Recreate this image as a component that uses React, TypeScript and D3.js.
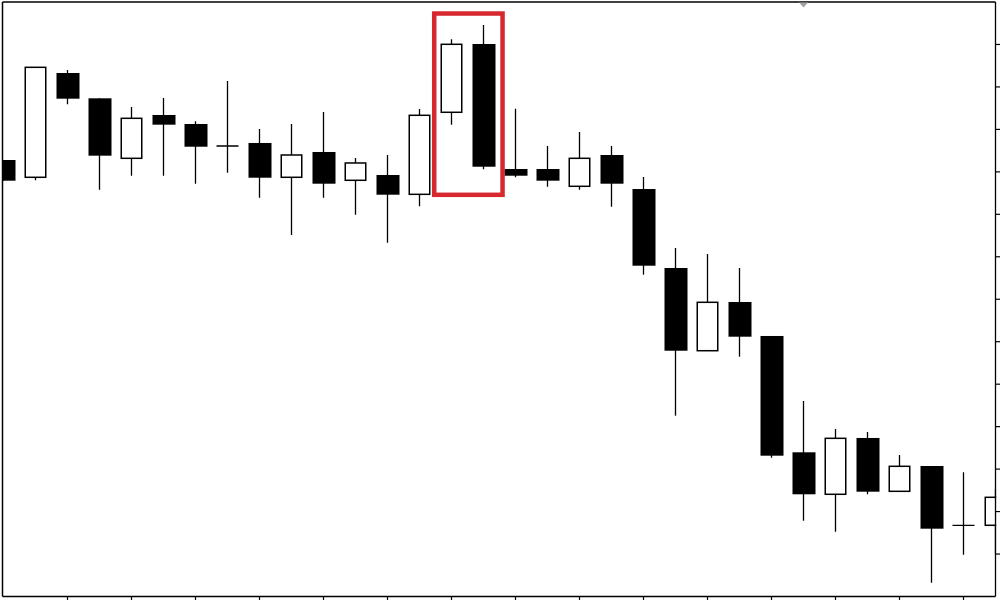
import React from "react";
import * as d3 from "d3";

// Candle data (price units), index = bar position
const opens = [102.79, 98.72, 123.28, 117.32, 103.19, 113.39, 111.27, 106.09, 106.8, 98.72, 104.68, 98.01, 99.26, 94.71, 114.03, 130.11, 100.67, 100.67, 96.6, 103.97, 95.96, 77.36, 57.88, 69.35, 61.35, 33.96, 24.07, 37.33, 24.77, 30.73, 16.77, 16.77];
const highs = [102.79, 124.62, 123.99, 117.32, 115.27, 117.39, 111.91, 121.4, 110.09, 111.27, 114.1, 103.26, 103.97, 114.8, 131.22, 134.58, 114.87, 106.09, 109.39, 106.09, 98.79, 82.07, 80.66, 77.36, 61.35, 46.04, 39.45, 38.74, 33.32, 30.73, 29.25, 25.32];
const lows = [97.92, 98.01, 115.91, 95.8, 99.09, 99.09, 97.21, 99.8, 93.91, 85.13, 93.91, 89.91, 83.32, 91.89, 111.11, 100.6, 98.72, 96.5, 95.8, 91.79, 75.78, 42.58, 57.88, 56.47, 32.69, 17.85, 15.26, 24.07, 24.77, 3.25, 9.84, 9.94];
const closes = [97.92, 124.62, 117.23, 103.81, 112.61, 111.11, 105.92, 106.09, 98.62, 103.97, 97.21, 102.09, 94.62, 113.32, 130.04, 101.21, 99.09, 97.92, 103.19, 97.21, 77.9, 57.88, 69.28, 61.18, 33.16, 24.07, 37.25, 24.68, 30.66, 15.97, 16.77, 23.36];

const priceTicks = [10, 20, 30, 40, 50, 60, 70, 80, 90, 100, 110, 120, 130];
const timeTicks = [2, 4, 6, 8, 10, 12, 14, 16, 18, 20, 22, 24, 26, 28, 30];
const highlighted = [14, 15];
const markerIndex = 25;

const W = 1000;
const H = 600;
const plotLeft = 2.5;
const plotRight = 995.5;
const plotTop = 2;
const plotBottom = 596.5;

export default function App() {
  const x = d3.scaleLinear().domain([0, 31]).range([3.5, 995.5]);
  const y = d3.scaleLinear().domain([0, 140]).range([plotBottom, plotTop]);
  const bodyW = 22;
  const step = x(1) - x(0);

  const hlLeft = x(highlighted[0]) - step * 0.54;
  const hlRight = x(highlighted[1]) + step * 0.595;
  const hlTop = y(d3.max(highlighted, (i) => highs[i])!) - 11.5;
  const hlBottom = y(d3.min(highlighted, (i) => lows[i])!) + 25.5;

  const mx = x(markerIndex);

  return (
    <svg
      width={W}
      height={H}
      style={{ position: "fixed", left: 0, top: 0, display: "block", background: "#fff" }}
    >
      <defs>
        <clipPath id="plotClip">
          <rect x={3} y={plotTop} width={plotRight + 0.7 - 3} height={plotBottom - plotTop} />
        </clipPath>
      </defs>
      <rect x={0} y={0} width={W} height={H} fill="#fff" />
      <g clipPath="url(#plotClip)">
        {opens.map((o, i) => {
          const c = closes[i];
          const cx = x(i);
          const top = y(Math.max(o, c));
          const bot = y(Math.min(o, c));
          const bull = c > o;
          const doji = o === c;
          return (
            <g key={i}>
              <line
                x1={cx}
                x2={cx}
                y1={y(highs[i])}
                y2={y(lows[i])}
                stroke="#000"
                strokeWidth={1.3}
              />
              {doji ? (
                <line x1={cx - bodyW / 2} x2={cx + bodyW / 2} y1={top} y2={top} stroke="#000" strokeWidth={1.3} />
              ) : bull ? (
                <rect
                  x={cx - bodyW / 2 + 0.75}
                  y={top}
                  width={bodyW - 1.5}
                  height={bot - top}
                  fill="#fff"
                  stroke="#000"
                  strokeWidth={1.5}
                />
              ) : (
                <rect x={cx - bodyW / 2} y={top} width={bodyW + 1} height={bot - top} fill="#000" />
              )}
            </g>
          );
        })}
      </g>
      {/* frame */}
      <line x1={plotLeft} x2={plotRight} y1={plotTop} y2={plotTop} stroke="#000" strokeWidth={1.3} />
      <line x1={plotLeft} x2={plotLeft} y1={plotTop} y2={plotBottom} stroke="#000" strokeWidth={1.5} />
      <line x1={plotRight} x2={plotRight} y1={plotTop} y2={plotBottom} stroke="#000" strokeWidth={1.3} />
      <line x1={plotLeft} x2={plotRight} y1={plotBottom} y2={plotBottom} stroke="#000" strokeWidth={1.3} />
      {priceTicks.map((p) => (
        <line key={p} x1={plotRight} x2={plotRight + 4.5} y1={y(p)} y2={y(p)} stroke="#000" strokeWidth={1.2} />
      ))}
      {timeTicks.map((t) => (
        <line key={t} x1={x(t)} x2={x(t)} y1={plotBottom} y2={plotBottom + 4} stroke="#000" strokeWidth={1.2} />
      ))}
      {/* marker */}
      <path d={`M${mx - 4.5},2.5 L${mx + 4.5},2.5 L${mx},7.5 Z`} fill="#a3a3a3" />
      {/* highlight box */}
      <rect
        x={hlLeft}
        y={hlTop}
        width={hlRight - hlLeft}
        height={hlBottom - hlTop}
        fill="none"
        stroke="#d7282f"
        strokeWidth={4.5}
      />
    </svg>
  );
}
